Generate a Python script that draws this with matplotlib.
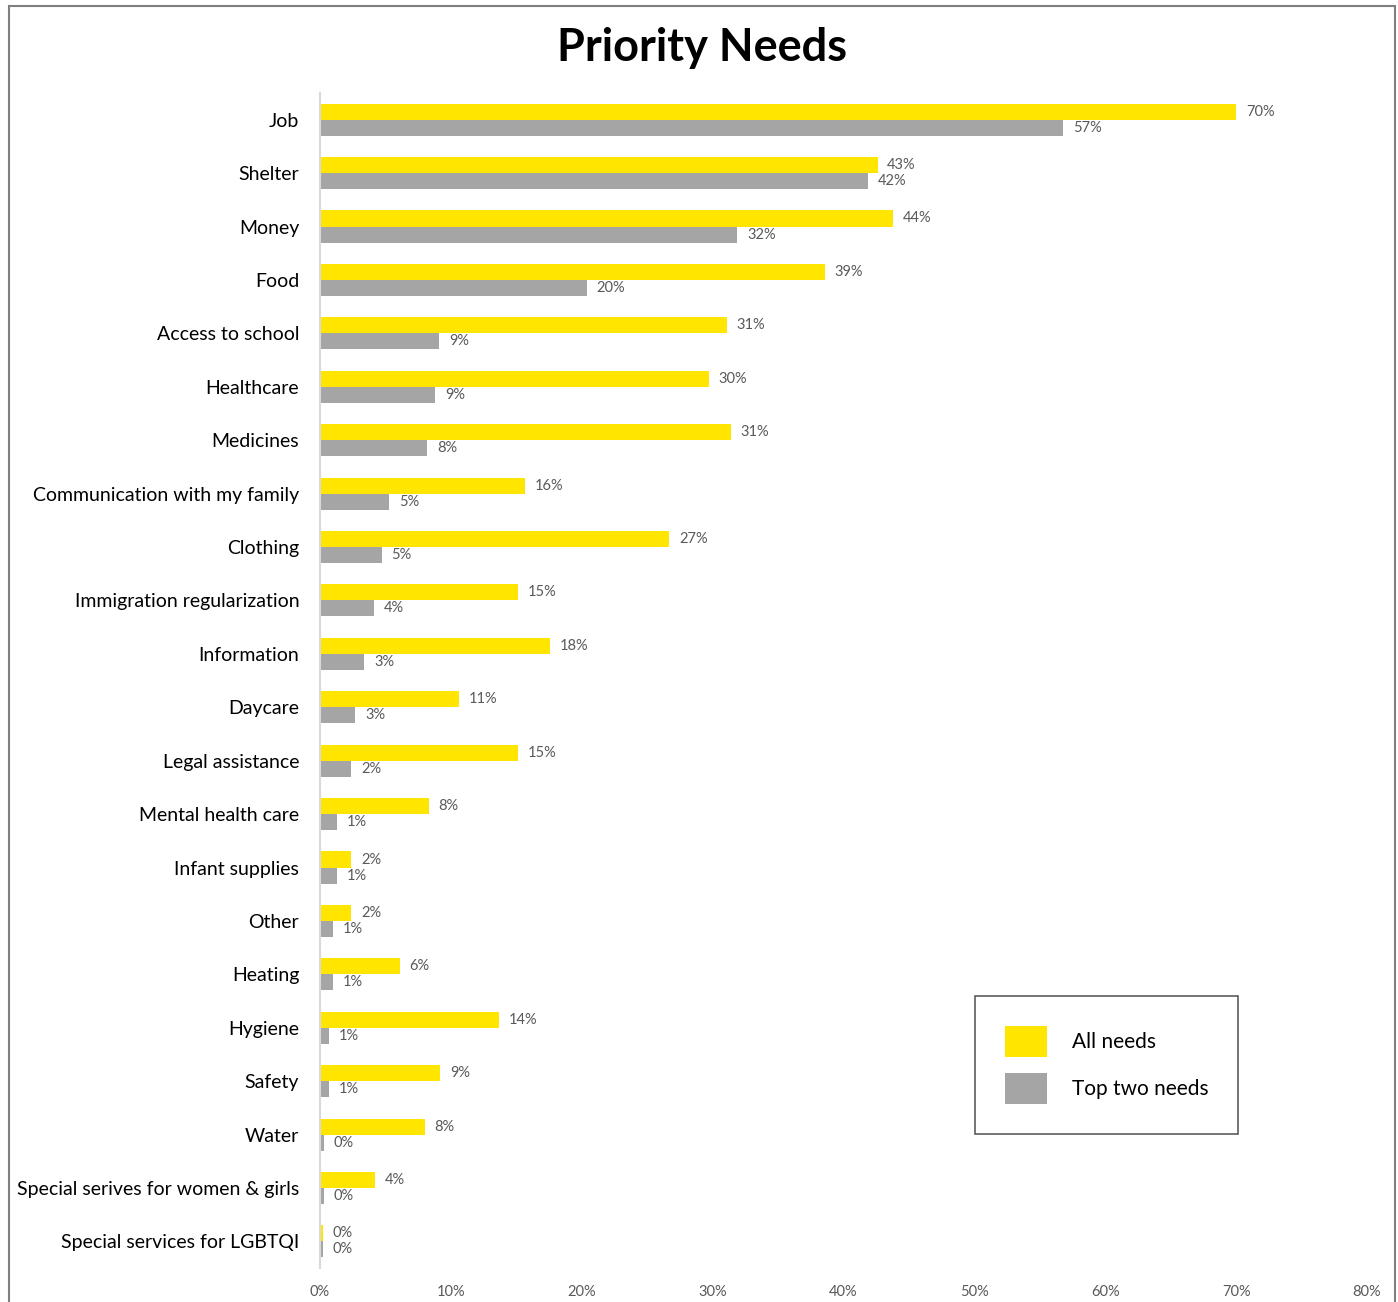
import matplotlib.pyplot as plt
from matplotlib.patches import Rectangle
import numpy as np

categories = ['Job', 'Shelter', 'Money', 'Food', 'Access to school', 'Healthcare',
              'Medicines', 'Communication with my family', 'Clothing',
              'Immigration regularization', 'Information', 'Daycare',
              'Legal assistance', 'Mental health care', 'Infant supplies', 'Other',
              'Heating', 'Hygiene', 'Safety', 'Water',
              'Special serives for women & girls', 'Special services for LGBTQI']
all_needs = [70.0, 42.6, 43.8, 38.6, 31.1, 29.7, 31.4, 15.7, 26.7, 15.1, 17.6, 10.6,
             15.1, 8.3, 2.4, 2.4, 6.1, 13.7, 9.2, 8.0, 4.2, 0.2]
top_two = [56.8, 41.9, 31.9, 20.4, 9.1, 8.8, 8.2, 5.3, 4.7, 4.1, 3.4, 2.7,
           2.4, 1.3, 1.3, 1.0, 1.0, 0.7, 0.7, 0.3, 0.3, 0.2]
xticks = [0, 10, 20, 30, 40, 50, 60, 70, 80]

plt.rcParams['font.family'] = ['Lato', 'DejaVu Sans']

yellow = '#FFE500'
gray = '#A5A5A5'
lab_col = '#595959'

fig = plt.figure(figsize=(13.98, 13.02), dpi=100)
ax = fig.add_axes([0.2289, 0.026, 0.7489, 0.9026])

y = np.arange(len(categories))
h = 0.3
ax.barh(y - h / 2, all_needs, height=h, color=yellow, label='All needs')
ax.barh(y + h / 2, top_two, height=h, color=gray, label='Top two needs')

for i in range(len(categories)):
    ax.annotate(f'{round(all_needs[i])}%', (all_needs[i], y[i] - h / 2), xytext=(7, 0),
                textcoords='offset points', va='center', ha='left', fontsize=10.5, color=lab_col)
    ax.annotate(f'{round(top_two[i])}%', (top_two[i], y[i] + h / 2), xytext=(7, 0),
                textcoords='offset points', va='center', ha='left', fontsize=10.5, color=lab_col)

ax.set_ylim(len(categories) - 0.5, -0.5)
ax.set_xlim(0, 80)
ax.set_yticks(y)
ax.set_yticklabels(categories, fontsize=14)
ax.set_xticks(xticks)
ax.set_xticklabels([f'{t}%' for t in xticks], fontsize=10.5, color=lab_col)
ax.tick_params(axis='y', length=0, pad=15)
ax.tick_params(axis='x', length=0, pad=12)
for s in ['top', 'right', 'bottom']:
    ax.spines[s].set_visible(False)
ax.spines['left'].set_color('#D9D9D9')
ax.spines['left'].set_linewidth(1.5)

leg = ax.legend(loc='center', bbox_to_anchor=(0.7512, 0.1728), frameon=True, fancybox=False,
                fontsize=15, handlelength=2.0, handleheight=1.9, handletextpad=1.2,
                borderpad=1.45, labelspacing=0.8, borderaxespad=0)
leg.get_frame().set_edgecolor('#333333')
leg.get_frame().set_linewidth(1.2)

fig.text(0.502, 0.963, 'Priority Needs', ha='center', va='center', fontsize=32.5,
         fontweight='bold', color='black')

fig.patches.append(Rectangle((9 / 1398, -0.05), (1395 - 9) / 1398, 1.05 - 6 / 1302,
                             transform=fig.transFigure, fill=False, edgecolor='#7F7F7F',
                             linewidth=1.5))

fig.savefig('out.png', dpi=100)
